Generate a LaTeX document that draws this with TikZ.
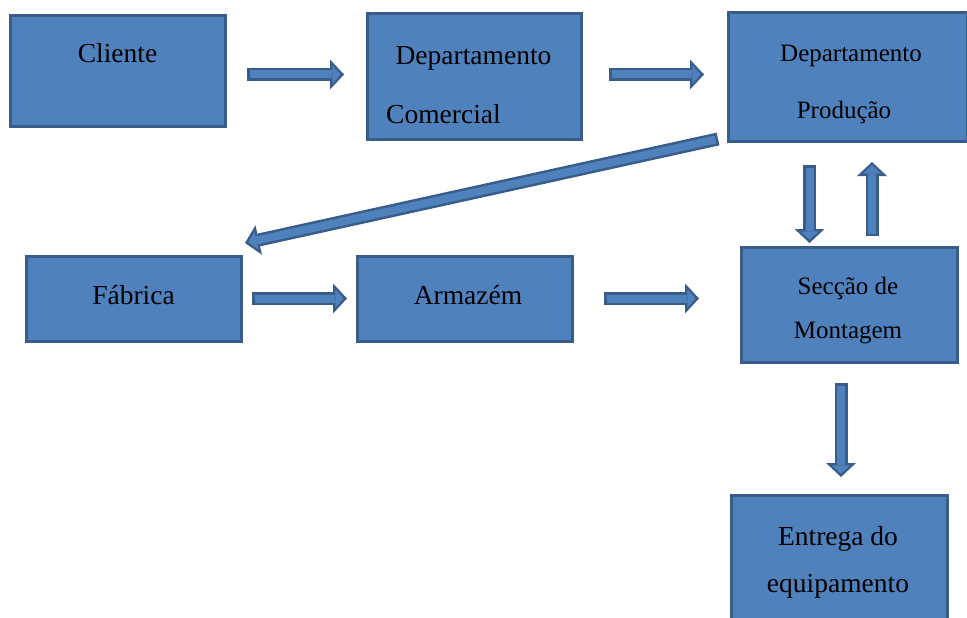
\documentclass[tikz,border=0pt]{standalone}
\usepackage{fontspec}
\setmainfont{Liberation Serif}
\usetikzlibrary{arrows.meta}
\definecolor{fillc}{HTML}{4F81BD}
\definecolor{edgec}{HTML}{385D8A}
\tikzset{
  box/.style={draw=edgec, fill=fillc, line width=3pt, inner sep=0pt, outer sep=0pt},
  lbl/.style={anchor=base, inner sep=0pt, text=black, font=\fontsize{27.5}{33}\selectfont},
  lbls/.style={anchor=base, inner sep=0pt, text=black, font=\fontsize{25}{30}\selectfont},
  bout/.style={line width=13pt, draw=edgec, -{Triangle[width=30pt,length=14pt,line width=0pt]}},
  bin/.style={line width=8pt, draw=fillc, shorten <=2.5pt, shorten >=3.4pt, -{Triangle[width=18.5pt,length=8.3pt,line width=0pt]}}
}
\newcommand\barr[2]{\draw[bout] #1 -- #2; \draw[bin] #1 -- #2;}
\begin{document}
\begin{tikzpicture}[x=1pt,y=-1pt]
\useasboundingbox (0,0) rectangle (967,618);
\clip (0,0) rectangle (967,618);
% boxes
\node[box, minimum width=215pt, minimum height=111.6pt] (cliente) at (118,71) {};
\node[box, minimum width=214pt, minimum height=125pt] (comercial) at (474,76.5) {};
\node[box, minimum width=239.5pt, minimum height=128.5pt] (producao) at (847.75,77.25) {};
\node[box, minimum width=215pt, minimum height=85pt] (fabrica) at (133.5,298.5) {};
\node[box, minimum width=215pt, minimum height=85pt] (armazem) at (464.5,298.5) {};
\node[box, minimum width=216pt, minimum height=115pt] (seccao) at (849,304.5) {};
\node[box, minimum width=216pt, minimum height=135pt] (entrega) at (839,562.5) {};
% texts
\node[lbl] (tcli) at (117.5,63) {Cliente};
\node[lbl] (tcom1) at (473.5,65) {Departamento};
\node[lbl, anchor=base west] (tcom2) at (386,123) {Comercial};
\node[lbls] (tpro1) at (851,62) {Departamento};
\node[lbls] (tpro2) at (844,118) {Produção};
\node[lbl] (tfab) at (133.5,304) {Fábrica};
\node[lbl] (tarm) at (468,304) {Armazém};
\node[lbls] (tsec1) at (848,294) {Secção de};
\node[lbls] (tsec2) at (848,338) {Montagem};
\node[lbl] (tent1) at (838,545) {Entrega do};
\node[lbl] (tent2) at (838,592) {equipamento};
% block arrows
\barr{([xshift=21.5pt,yshift=-3.5pt]cliente.east)}{([xshift=-23pt,yshift=2pt]comercial.west)}
\barr{([xshift=28pt,yshift=2pt]comercial.east)}{([xshift=-24pt,yshift=2.75pt]producao.west)}
\barr{([xshift=-10pt,yshift=2.5pt]producao.south west)}{([xshift=4pt,yshift=13pt]fabrica.north east)}
\barr{([xshift=-38.25pt,yshift=-23.5pt]producao.south)}{([xshift=-39.5pt,yshift=4pt]seccao.north)}
\barr{([xshift=23pt,yshift=11pt]seccao.north)}{([xshift=24.25pt,yshift=-20.5pt]producao.south)}
\barr{([xshift=11pt]fabrica.east)}{([xshift=-10pt]armazem.west)}
\barr{([xshift=32pt]armazem.east)}{([xshift=-42pt,yshift=6pt]seccao.west)}
\barr{([xshift=-8pt,yshift=-21pt]seccao.south)}{([xshift=2pt,yshift=18pt]entrega.north)}
\end{tikzpicture}
\end{document}
